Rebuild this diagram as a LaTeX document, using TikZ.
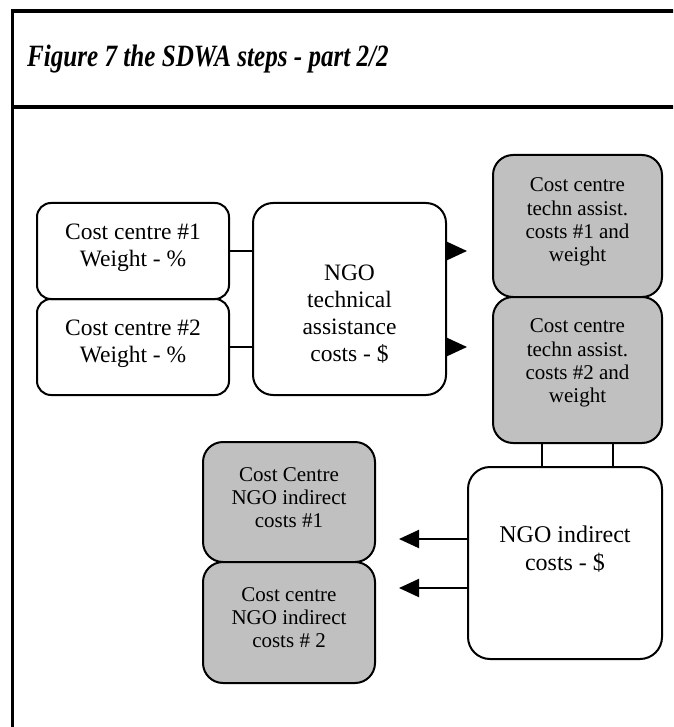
\documentclass[tikz,border=0pt]{standalone}
\usepackage{fontspec}
\setmainfont{Liberation Serif}
\usetikzlibrary{arrows.meta,calc}
\definecolor{boxgray}{HTML}{C0C0C0}
\tikzset{
  box/.style={draw, line width=2pt, inner sep=0pt, rounded corners=#1},
  box/.default=20pt,
  gbox/.style={box, fill=boxgray},
  txt/.style={align=center, inner sep=0pt, anchor=center},
  conn/.style={line width=1.5pt},
  arr/.style={line width=2pt, -{Triangle[length=20pt,width=18pt]}},
  frame/.style={line width=3.4pt},
}
\begin{document}
\begin{tikzpicture}[x=1pt,y=-1pt]
\useasboundingbox (0,0) rectangle (673,727);
\begin{scope}
\clip (0,0) rectangle (673,727);
\draw[frame] (12.5,760) -- (12.5,11) -- (700,11);
\draw[frame] (12.5,107) -- (700,107);
\end{scope}
\node[anchor=base west, inner sep=0pt] (title) at (27,67)
  {\scalebox{0.81}[1]{\fontsize{31}{31}\selectfont\bfseries\itshape Figure 7 the SDWA steps - part 2/2}};

% boxes
\node[box=14pt, minimum width=192pt, minimum height=96pt] (cc1) at (133,251) {};
\node[box=14pt, minimum width=192pt, minimum height=96pt] (cc2) at (133,347) {};
\node[box, minimum width=193pt, minimum height=192pt] (ta) at (349.5,299) {};
\node[gbox, minimum width=169pt, minimum height=142pt] (g1) at (577.5,226) {};
\node[gbox, minimum width=169pt, minimum height=146pt] (g2) at (577.5,370) {};
\node[gbox, minimum width=172pt, minimum height=120pt] (n1) at (289,502) {};
\node[gbox, minimum width=172pt, minimum height=121pt] (n2) at (289,622.5) {};
\node[box=22pt, minimum width=194pt, minimum height=192pt] (big) at (565,563) {};

% texts
\node[txt, font=\fontsize{23.5}{27}\selectfont] (cc1t) at (133,247.5) {Cost centre \#1\\Weight - \%};
\node[txt, font=\fontsize{23.5}{27}\selectfont] (cc2t) at (133,344) {Cost centre \#2\\Weight - \%};
\node[txt, font=\fontsize{23.5}{27}\selectfont] (tat) at (349.5,314) {NGO\\technical\\assistance\\costs - \$};
\node[txt, font=\fontsize{21}{23.3}\selectfont] (g1t) at (577.5,222) {Cost centre\\techn assist.\\costs \#1 and\\weight};
\node[txt, font=\fontsize{21}{23.3}\selectfont] (g2t) at (577.5,363) {Cost centre\\techn assist.\\costs \#2 and\\weight};
\node[txt, font=\fontsize{21}{23}\selectfont] (n1t) at (289,498) {Cost Centre\\NGO indirect\\costs \#1};
\node[txt, font=\fontsize{21}{23}\selectfont] (n2t) at (289,617.5) {Cost centre\\NGO indirect\\costs \# 2};
\node[txt, font=\fontsize{24}{28}\selectfont] (bigt) at (565,549.5) {NGO indirect\\costs - \$};

% connectors
\draw[conn] (cc1.east) -- (cc1.east -| ta.west);
\draw[conn] (cc2.east) -- (cc2.east -| ta.west);
\draw[arr, shorten >=25pt] (ta.east |- cc1.east) -- (g1.west |- cc1.east);
\draw[arr, shorten >=25pt] (ta.east |- cc2.east) -- (g1.west |- cc2.east);
\coordinate (a1) at ($(big.west)+(0,-24)$);
\coordinate (a2) at ($(big.west)+(0,25)$);
\draw[arr, shorten >=23pt] (a1) -- (a1 -| n1.east);
\draw[arr, shorten >=23pt] (a2) -- (a2 -| n1.east);
\coordinate (v1) at ($(g2.south)+(-35.5,0)$);
\coordinate (v2) at ($(g2.south)+(35.5,0)$);
\draw[conn] (v1) -- (v1 |- big.north);
\draw[conn] (v2) -- (v2 |- big.north);
\end{tikzpicture}
\end{document}
